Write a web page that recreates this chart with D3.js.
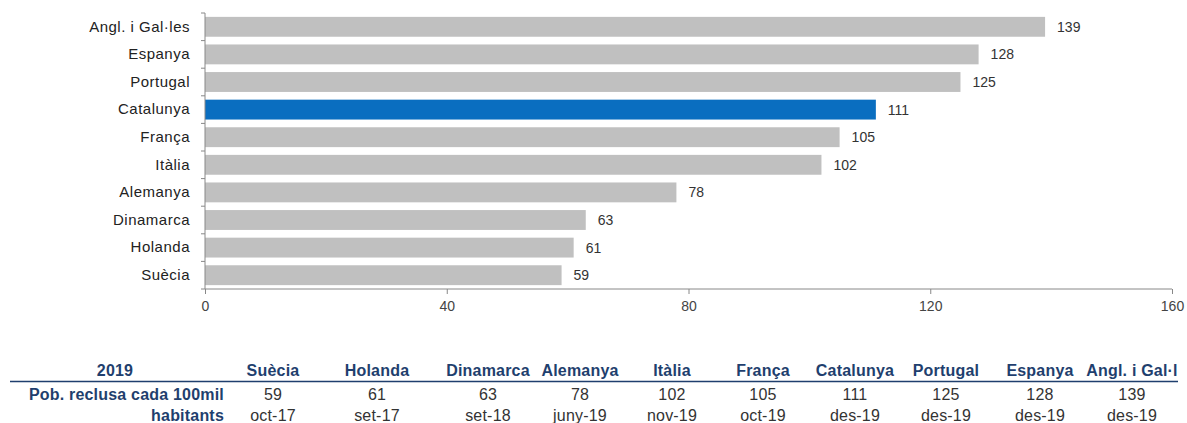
<!DOCTYPE html>
<html>
<head>
<meta charset="utf-8">
<script src="https://cdn.jsdelivr.net/npm/d3@7"></script>
<style>
  body { margin: 0; background: #fff; }
  svg { display: block; font-family: "Liberation Sans", Arial, sans-serif; }
</style>
</head>
<body>
<svg id="chart" width="1187" height="423"></svg>
<script>
// Prison population per 100,000 inhabitants (2019)
const categories = ["Angl. i Gal·les", "Espanya", "Portugal", "Catalunya", "França", "Itàlia", "Alemanya", "Dinamarca", "Holanda", "Suècia"];
const values = [139, 128, 125, 111, 105, 102, 78, 63, 61, 59];
const highlight = "Catalunya";
const xTicks = [0, 40, 80, 120, 160];

// Summary table below the chart (ascending order)
const tableTitle = "2019";
const tableHeaders = ["Suècia", "Holanda", "Dinamarca", "Alemanya", "Itàlia", "França", "Catalunya", "Portugal", "Espanya", "Angl. i Gal·l"];
const tableValues = [59, 61, 63, 78, 102, 105, 111, 125, 128, 139];
const tableDates = ["oct-17", "set-17", "set-18", "juny-19", "nov-19", "oct-19", "des-19", "des-19", "des-19", "des-19"];
const rowLabel = ["Pob. reclusa cada 100mil", "habitants"];

// Layout: table column centres
const columnCentres = [273, 377, 488, 580, 672, 763, 855, 946, 1040, 1132];

const svg = d3.select("#chart");

const x = d3.scaleLinear().domain([0, 160]).range([205, 1172]);
const y = d3.scaleBand().domain(categories).range([13, 289]).paddingInner(0.28).paddingOuter(0.14);

// Bars
svg.append("g").selectAll("rect")
  .data(categories)
  .join("rect")
  .attr("x", x(0))
  .attr("y", d => y(d))
  .attr("width", (d, i) => x(values[i]) - x(0))
  .attr("height", y.bandwidth())
  .attr("fill", d => d === highlight ? "#0a6ec0" : "#c0c0c0");

// Value labels
svg.append("g").selectAll("text")
  .data(categories)
  .join("text")
  .attr("x", (d, i) => x(values[i]) + 12)
  .attr("y", d => y(d) + y.bandwidth() / 2)
  .attr("dy", "0.36em")
  .attr("font-size", 14)
  .attr("fill", "#333")
  .text((d, i) => values[i]);

// Left axis: category labels, ticks between bands
const yAxis = svg.append("g")
  .attr("transform", `translate(${x(0)},0)`)
  .call(d3.axisLeft(y).tickSize(0).tickPadding(15));
yAxis.selectAll("text").attr("font-size", 15).attr("fill", "#222")
  .attr("letter-spacing", 0.5)
  .attr("font-family", "'Liberation Sans', Arial, sans-serif");
const step = y.step();
const boundaries = d3.range(categories.length + 1).map(i => y.range()[0] + i * step);
yAxis.selectAll(".sep")
  .data(boundaries)
  .join("line")
  .attr("class", "sep")
  .attr("x1", -4).attr("x2", 0)
  .attr("y1", d => d).attr("y2", d => d)
  .attr("stroke", "#888");
yAxis.select(".domain").attr("stroke", "#888")
  .attr("d", `M0,${boundaries[0]}V${boundaries[boundaries.length - 1]}`);

// Bottom axis
const xAxis = svg.append("g")
  .attr("transform", `translate(0,${boundaries[boundaries.length - 1]})`)
  .call(d3.axisBottom(x).tickValues(xTicks).tickSize(5).tickPadding(7));
xAxis.select(".domain").attr("stroke", "#888").attr("d", `M${x(0)},0H${x(160)}`);
xAxis.selectAll(".tick line").attr("stroke", "#888");
xAxis.selectAll("text").attr("font-size", 14).attr("fill", "#444")
  .attr("font-family", "'Liberation Sans', Arial, sans-serif");

// Table
const colX = d3.scaleOrdinal().domain(tableHeaders).range(columnCentres);
const headerColor = "#1f3f6e";
const table = svg.append("g").attr("font-size", 16).attr("letter-spacing", 0.2);

table.append("text")
  .attr("x", 115).attr("y", 376)
  .attr("text-anchor", "middle")
  .attr("font-weight", "bold")
  .attr("fill", headerColor)
  .text(tableTitle);

table.selectAll(".hdr")
  .data(tableHeaders)
  .join("text")
  .attr("class", "hdr")
  .attr("x", d => colX(d)).attr("y", 376)
  .attr("text-anchor", "middle")
  .attr("font-weight", "bold")
  .attr("fill", headerColor)
  .text(d => d);

table.append("line")
  .attr("x1", 10).attr("x2", 1178)
  .attr("y1", 381.5).attr("y2", 381.5)
  .attr("stroke", headerColor)
  .attr("stroke-width", 1.5);

table.selectAll(".rl")
  .data(rowLabel)
  .join("text")
  .attr("class", "rl")
  .attr("x", 224).attr("y", (d, i) => 400 + i * 20.5)
  .attr("text-anchor", "end")
  .attr("font-weight", "bold")
  .attr("fill", headerColor)
  .text(d => d);

table.selectAll(".val")
  .data(tableHeaders)
  .join("text")
  .attr("class", "val")
  .attr("x", d => colX(d)).attr("y", 400)
  .attr("text-anchor", "middle")
  .attr("fill", "#333")
  .text((d, i) => tableValues[i]);

table.selectAll(".date")
  .data(tableHeaders)
  .join("text")
  .attr("class", "date")
  .attr("x", d => colX(d)).attr("y", 420.5)
  .attr("text-anchor", "middle")
  .attr("fill", "#333")
  .text((d, i) => tableDates[i]);
</script>
</body>
</html>
